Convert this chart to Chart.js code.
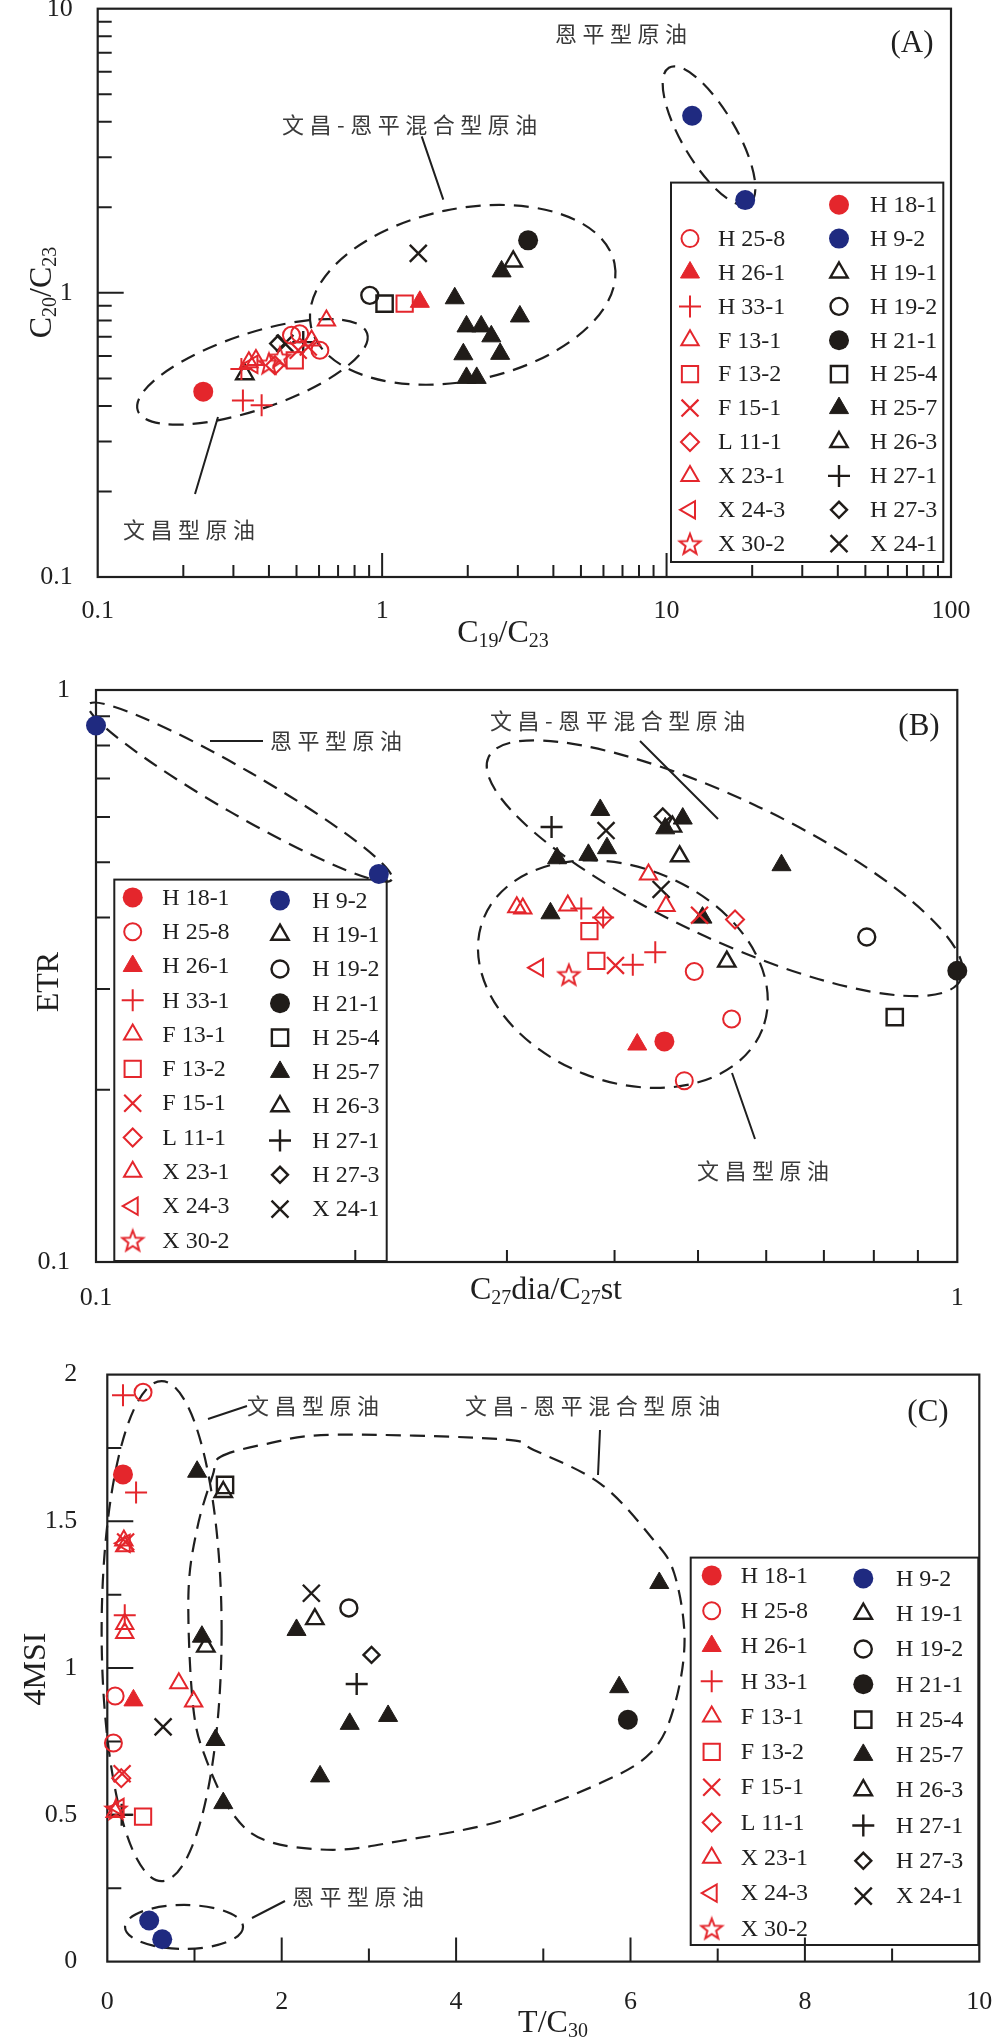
<!DOCTYPE html>
<html>
<head>
<meta charset="utf-8">
<script src="https://cdn.jsdelivr.net/npm/chart.js@4/dist/chart.umd.min.js"></script>
<style>
  html, body { margin: 0; padding: 0; background: #fff; }
  body { width: 1000px; height: 2042px; position: relative; overflow: hidden; }
  canvas { position: absolute; left: 0; }
</style>
</head>
<body>
<canvas id="chA" width="1000" height="680" style="top:-10px"></canvas>
<canvas id="chB" width="1000" height="680" style="top:655px"></canvas>
<canvas id="chC" width="1000" height="707" style="top:1335px"></canvas>
<script>
const RED = '#e4262c', BLUE = '#1f2a80', BLACK = '#201c19', INK = '#1f1f1f', CJK_INK = '#3a3a3a';
const SERIF = '"Liberation Serif", "Times New Roman", serif';
const CJK = '"Noto Sans CJK SC", sans-serif';

// samples, in legend order
const sampleNames = ['H18-1', 'H25-8', 'H26-1', 'H33-1', 'F13-1', 'F13-2', 'F15-1', 'L11-1', 'X23-1', 'X24-3', 'X30-2',
  'H9-2', 'H19-1', 'H19-2', 'H21-1', 'H25-4', 'H25-7', 'H26-3', 'H27-1', 'H27-3', 'X24-1'];
const sampleColors = [RED, RED, RED, RED, RED, RED, RED, RED, RED, RED, RED,
  BLUE, BLACK, BLACK, BLACK, BLACK, BLACK, BLACK, BLACK, BLACK, BLACK];
const sampleMarkers = ['dot', 'ring', 'solidTri', 'plus', 'tri', 'square', 'cross', 'diamond', 'tri', 'leftTri', 'star',
  'dot', 'tri', 'ring', 'dot', 'square', 'solidTri', 'tri', 'plus', 'smallDiamond', 'cross'];

const legendLeft = ['H18-1', 'H25-8', 'H26-1', 'H33-1', 'F13-1', 'F13-2', 'F15-1', 'L11-1', 'X23-1', 'X24-3', 'X30-2'];
const legendRight = ['H9-2', 'H19-1', 'H19-2', 'H21-1', 'H25-4', 'H25-7', 'H26-3', 'H27-1', 'H27-3', 'X24-1'];

// (A) C19/C23 vs C20/C23
const pointsA = [
  ['H18-1', 0.235, 0.449],
  ['H25-8', 0.48, 0.709], ['H25-8', 0.513, 0.718], ['H25-8', 0.604, 0.628],
  ['H26-1', 1.357, 0.93],
  ['H33-1', 0.324, 0.418], ['H33-1', 0.377, 0.402], ['H33-1', 0.32, 0.54],
  ['F13-1', 0.34, 0.57], ['F13-1', 0.637, 0.80],
  ['F13-2', 0.493, 0.579], ['F13-2', 1.2, 0.916],
  ['F15-1', 0.507, 0.628], ['F15-1', 0.55, 0.645],
  ['L11-1', 0.42, 0.556],
  ['X23-1', 0.36, 0.58], ['X23-1', 0.565, 0.68],
  ['X24-3', 0.35, 0.56],
  ['X30-2', 0.437, 0.594], ['X30-2', 0.40, 0.565],
  ['H9-2', 12.3, 4.2], ['H9-2', 18.9, 2.12],
  ['H19-1', 0.329, 0.517],
  ['H19-2', 0.905, 0.98],
  ['H21-1', 3.26, 1.53],
  ['H25-4', 1.02, 0.916],
  ['H25-7', 1.80, 0.957], ['H25-7', 1.98, 0.762], ['H25-7', 2.23, 0.762], ['H25-7', 2.42, 0.703], ['H25-7', 1.93, 0.608],
  ['H25-7', 2.6, 0.61], ['H25-7', 1.98, 0.502], ['H25-7', 2.15, 0.502], ['H25-7', 2.63, 1.19], ['H25-7', 3.05, 0.826],
  ['H26-3', 2.89, 1.29],
  ['H27-1', 0.528, 0.671],
  ['H27-3', 0.431, 0.663],
  ['X24-1', 0.455, 0.664], ['X24-1', 1.34, 1.377]
];

// (B) C27dia/C27st vs ETR
const pointsB = [
  ['H18-1', 0.457, 0.243],
  ['H25-8', 0.495, 0.322], ['H25-8', 0.547, 0.266], ['H25-8', 0.482, 0.2075],
  ['H26-1', 0.425, 0.24],
  ['H33-1', 0.366, 0.415], ['H33-1', 0.42, 0.331], ['H33-1', 0.446, 0.348], ['H33-1', 0.388, 0.40],
  ['F13-1', 0.308, 0.417], ['F13-1', 0.438, 0.476],
  ['F13-2', 0.374, 0.379], ['F13-2', 0.381, 0.336],
  ['F15-1', 0.401, 0.33], ['F15-1', 0.502, 0.404],
  ['L11-1', 0.388, 0.40], ['L11-1', 0.552, 0.397],
  ['X23-1', 0.313, 0.415], ['X23-1', 0.353, 0.42], ['X23-1', 0.459, 0.419],
  ['X24-3', 0.326, 0.327],
  ['X30-2', 0.354, 0.318],
  ['H9-2', 0.1, 0.867], ['H9-2', 0.213, 0.477],
  ['H19-1', 0.467, 0.577],
  ['H19-2', 0.785, 0.37],
  ['H21-1', 1.0, 0.323],
  ['H25-4', 0.846, 0.268],
  ['H25-7', 0.385, 0.617], ['H25-7', 0.392, 0.529], ['H25-7', 0.373, 0.515], ['H25-7', 0.343, 0.508], ['H25-7', 0.337, 0.407],
  ['H25-7', 0.458, 0.573], ['H25-7', 0.48, 0.596], ['H25-7', 0.506, 0.40], ['H25-7', 0.625, 0.494],
  ['H26-3', 0.476, 0.512], ['H26-3', 0.54, 0.335],
  ['H27-1', 0.338, 0.576],
  ['H27-3', 0.455, 0.601],
  ['X24-1', 0.391, 0.568], ['X24-1', 0.453, 0.448]
];

// (C) T/C30 vs 4MSI
const pointsC = [
  ['H18-1', 0.18, 1.66],
  ['H25-8', 0.41, 1.94], ['H25-8', 0.09, 0.905], ['H25-8', 0.07, 0.745],
  ['H26-1', 0.30, 0.89],
  ['H33-1', 0.18, 1.93], ['H33-1', 0.33, 1.598], ['H33-1', 0.2, 1.18],
  ['F13-1', 0.19, 1.435], ['F13-1', 0.2, 1.15], ['F13-1', 0.82, 0.948],
  ['F13-2', 0.41, 0.494],
  ['F15-1', 0.17, 0.64], ['F15-1', 0.21, 1.43],
  ['L11-1', 0.16, 0.625],
  ['X23-1', 0.2, 1.415], ['X23-1', 0.2, 1.12], ['X23-1', 0.99, 0.886], ['X23-1', 0.09, 0.51],
  ['X24-3', 0.13, 0.525], ['X24-3', 0.2, 1.425],
  ['X30-2', 0.1, 0.52],
  ['H9-2', 0.48, 0.14], ['H9-2', 0.63, 0.076],
  ['H19-1', 2.38, 1.167],
  ['H19-2', 2.77, 1.205],
  ['H21-1', 5.97, 0.824],
  ['H25-4', 1.35, 1.624],
  ['H25-7', 1.03, 1.669], ['H25-7', 1.085, 1.107], ['H25-7', 1.24, 0.755], ['H25-7', 1.33, 0.54], ['H25-7', 2.17, 1.13],
  ['H25-7', 2.44, 0.631], ['H25-7', 2.78, 0.81], ['H25-7', 3.22, 0.837], ['H25-7', 5.87, 0.935], ['H25-7', 6.33, 1.29],
  ['H26-3', 1.33, 1.60], ['H26-3', 1.13, 1.073],
  ['H27-1', 2.86, 0.946], ['H27-1', 0.165, 0.50],
  ['H27-3', 3.03, 1.045],
  ['X24-1', 2.34, 1.255], ['X24-1', 0.64, 0.80]
];

// tick labels
const ticksAx = [0.1, 1, 10, 100], ticksAy = [0.1, 1, 10];
const ticksBx = [0.1, 1], ticksBy = [0.1, 1];
const ticksCx = [0, 2, 4, 6, 8, 10], ticksCy = [0, 0.5, 1, 1.5, 2];

// outline of the 文昌-恩平 mixed field in (C), in data units
const mixedOutlineC = [
  [1.30, 1.72], [1.83, 1.764], [2.59, 1.795], [4.51, 1.78], [4.89, 1.743], [5.66, 1.627], [6.24, 1.445], [6.50, 1.324],
  [6.62, 1.096], [6.50, 0.868], [6.24, 0.714], [5.66, 0.609], [4.51, 0.479], [3.36, 0.411], [2.59, 0.381], [1.83, 0.411],
  [1.44, 0.503], [1.14, 0.684], [0.985, 0.867], [0.93, 1.247], [1.03, 1.475], [1.21, 1.658]
];

function makeStar(color) {
  const c = document.createElement('canvas');
  c.width = c.height = 26;
  const g = c.getContext('2d');
  g.strokeStyle = color; g.lineWidth = 2; g.lineJoin = 'miter';
  g.beginPath();
  for (let i = 0; i < 10; i++) {
    const r = i % 2 ? 4.6 : 11;
    const t = -Math.PI / 2 + i * Math.PI / 5;
    const px = 13 + r * Math.cos(t), py = 14 + r * Math.sin(t);
    if (i === 0) g.moveTo(px, py); else g.lineTo(px, py);
  }
  g.closePath(); g.stroke();
  return c;
}
const starImg = makeStar(RED);

const markerDefs = {
  dot: { pointStyle: 'circle', radius: 10, fill: true, bw: 0 },
  ring: { pointStyle: 'circle', radius: 8.5, fill: false, bw: 2 },
  solidTri: { pointStyle: 'triangle', radius: 11, fill: true, bw: 1 },
  tri: { pointStyle: 'triangle', radius: 10, fill: false, bw: 2 },
  leftTri: { pointStyle: 'triangle', radius: 10, fill: false, bw: 2, rotation: -90 },
  plus: { pointStyle: 'cross', radius: 11, fill: false, bw: 2 },
  cross: { pointStyle: 'crossRot', radius: 12, fill: false, bw: 2.2 },
  square: { pointStyle: 'rect', radius: 11.5, fill: false, bw: 2 },
  diamond: { pointStyle: 'rectRot', radius: 9, fill: false, bw: 2 },
  smallDiamond: { pointStyle: 'rectRot', radius: 8, fill: false, bw: 2.4 },
  star: { pointStyle: starImg, radius: 11, fill: false, bw: 2 }
};

function styleOf(name) {
  const i = sampleNames.indexOf(name);
  const m = Object.assign({}, markerDefs[sampleMarkers[i]]);
  m.color = sampleColors[i];
  if (m.color === BLACK && !m.fill) m.bw = Math.max(m.bw, 2.4);
  return m;
}

function buildDatasets(points) {
  return sampleNames.map((name) => {
    const m = styleOf(name);
    return {
      label: name,
      data: points.filter((p) => p[0] === name).map((p) => ({ x: p[1], y: p[2] })),
      showLine: false,
      clip: false,
      pointStyle: m.pointStyle,
      pointRadius: m.radius,
      pointHoverRadius: m.radius,
      pointRotation: m.rotation || 0,
      pointBorderWidth: m.bw,
      pointBorderColor: m.color,
      pointBackgroundColor: m.fill ? m.color : 'rgba(0,0,0,0)'
    };
  });
}

function logMinor(lo, hi) {
  const out = [];
  for (let d = lo; d < hi; d *= 10) for (let k = 2; k <= 9; k++) out.push(d * k);
  return out;
}

function drawRich(ctx, parts, cx, cy, rot, size) {
  const sub = Math.round(size * 0.62);
  ctx.save();
  ctx.translate(cx, cy);
  if (rot) ctx.rotate(rot);
  ctx.fillStyle = INK;
  ctx.textBaseline = 'middle';
  ctx.textAlign = 'left';
  let w = 0;
  parts.forEach(([t, s]) => { ctx.font = (s ? sub : size) + 'px ' + SERIF; w += ctx.measureText(t).width; });
  let xx = -w / 2;
  parts.forEach(([t, s]) => {
    ctx.font = (s ? sub : size) + 'px ' + SERIF;
    ctx.fillText(t, xx, s ? size * 0.24 : 0);
    xx += ctx.measureText(t).width;
  });
  ctx.restore();
}

function overlay(cfg) {
  return {
    id: 'overlay',
    beforeDatasetsDraw(chart) {
      const { ctx, chartArea: a } = chart;
      const sx = chart.scales.x, sy = chart.scales.y;
      const T = cfg.top;
      ctx.save();
      ctx.strokeStyle = INK;
      ctx.lineWidth = 2.2;
      ctx.strokeRect(a.left, a.top, a.right - a.left, a.bottom - a.top);

      ctx.lineWidth = 2;
      ctx.beginPath();
      cfg.xTicks.forEach(([v, len]) => {
        const px = sx.getPixelForValue(v);
        ctx.moveTo(px, a.bottom); ctx.lineTo(px, a.bottom - len);
      });
      cfg.yTicks.forEach(([v, len]) => {
        const py = sy.getPixelForValue(v);
        ctx.moveTo(a.left, py); ctx.lineTo(a.left + len, py);
      });
      ctx.stroke();

      // dashed fields
      ctx.setLineDash([15, 9]);
      ctx.lineWidth = 2.2;
      cfg.ellipses.forEach((e) => {
        ctx.beginPath();
        ctx.ellipse(sx.getPixelForValue(e.cx), sy.getPixelForValue(e.cy), e.rx, e.ry, e.ang * Math.PI / 180, 0, Math.PI * 2);
        ctx.stroke();
      });
      if (cfg.outline) {
        const pts = cfg.outline.map(([vx, vy]) => ({ x: sx.getPixelForValue(vx), y: sy.getPixelForValue(vy) }));
        const n = pts.length;
        ctx.beginPath();
        ctx.moveTo(pts[0].x, pts[0].y);
        for (let i = 0; i < n; i++) {
          const p0 = pts[(i - 1 + n) % n], p1 = pts[i], p2 = pts[(i + 1) % n], p3 = pts[(i + 2) % n];
          ctx.bezierCurveTo(p1.x + (p2.x - p0.x) / 6, p1.y + (p2.y - p0.y) / 6,
            p2.x - (p3.x - p1.x) / 6, p2.y - (p3.y - p1.y) / 6, p2.x, p2.y);
        }
        ctx.stroke();
      }
      ctx.setLineDash([]);

      // leader lines
      ctx.lineWidth = 2;
      ctx.beginPath();
      cfg.leaders.forEach(([x1, y1, x2, y2]) => { ctx.moveTo(x1, y1 - T); ctx.lineTo(x2, y2 - T); });
      ctx.stroke();

      // legend
      const L = cfg.legend;
      ctx.lineWidth = 2;
      ctx.strokeRect(L.box[0], L.box[1] - T, L.box[2] - L.box[0], L.box[3] - L.box[1]);
      const drawEntry = (name, mx, tx, y) => {
        const m = styleOf(name);
        ctx.save();
        ctx.fillStyle = m.fill ? m.color : 'rgba(0,0,0,0)';
        ctx.strokeStyle = m.color;
        ctx.lineWidth = m.bw;
        Chart.helpers.drawPoint(ctx, { pointStyle: m.pointStyle, radius: m.radius, rotation: m.rotation || 0, borderWidth: m.bw }, mx, y);
        ctx.restore();
        ctx.fillStyle = INK;
        ctx.font = '24px ' + SERIF;
        ctx.textAlign = 'left';
        ctx.textBaseline = 'middle';
        ctx.fillText(name.replace(/^([A-Z])/, '$1 '), tx, y + 1);
      };
      L.left.forEach((name, i) => drawEntry(name, L.c1[0], L.c1[1], L.y0 + (i + L.leftStart) * L.dy - T));
      L.right.forEach((name, i) => drawEntry(name, L.c2[0], L.c2[1], L.y0 + i * L.dy + L.rightShift - T));
      ctx.restore();
    },
    afterDatasetsDraw(chart) {
      const ctx = chart.ctx;
      const T = cfg.top;
      ctx.save();
      ctx.fillStyle = CJK_INK;
      ctx.font = '22px ' + CJK;
      ctx.textAlign = 'left';
      ctx.textBaseline = 'middle';
      ctx.letterSpacing = '5.5px';
      cfg.labels.forEach((l) => ctx.fillText(l.t, l.x, l.y - T));
      ctx.letterSpacing = '0px';
      ctx.fillStyle = INK;
      ctx.font = '31px ' + SERIF;
      ctx.textAlign = 'center';
      ctx.fillText(cfg.tag.t, cfg.tag.x, cfg.tag.y - T);
      drawRich(ctx, cfg.xTitle.parts, cfg.xTitle.x, cfg.xTitle.y - T, 0, 32);
      drawRich(ctx, cfg.yTitle.parts, cfg.yTitle.x, cfg.yTitle.y - T, -Math.PI / 2, 32);
      ctx.restore();
    }
  };
}

function makePanel(id, cfg) {
  const canvas = document.getElementById(id);
  const W = canvas.width, H = canvas.height;
  const area = cfg.area;
  const tickFont = { family: SERIF, size: 26 };
  const axis = (opts, isX) => Object.assign({
    grid: { display: false },
    border: { display: false },
    ticks: {
      color: INK, font: tickFont, autoSkip: false, maxRotation: 0, minRotation: 0,
      padding: isX ? cfg.xPad : cfg.yPad,
      callback: (v) => String(v)
    },
    afterBuildTicks: (s) => { s.ticks = (isX ? cfg.xLabels : cfg.yLabels).map((v) => ({ value: v })); },
    afterFit: (s) => {
      if (isX) { s.height = H - area.bottom; s.paddingLeft = 0; s.paddingRight = 0; }
      else { s.width = area.left; s.paddingTop = 0; s.paddingBottom = 0; }
    }
  }, opts);

  return new Chart(canvas.getContext('2d'), {
    type: 'scatter',
    data: { datasets: buildDatasets(cfg.points) },
    options: {
      responsive: false,
      animation: false,
      devicePixelRatio: 1,
      events: [],
      layout: { padding: { left: 0, top: area.top, right: W - area.right, bottom: 0 } },
      plugins: { legend: { display: false }, tooltip: { enabled: false } },
      scales: {
        x: axis({ type: cfg.xType, min: cfg.xRange[0], max: cfg.xRange[1] }, true),
        y: axis({ type: cfg.yType, min: cfg.yRange[0], max: cfg.yRange[1] }, false)
      }
    },
    plugins: [overlay(cfg)]
  });
}

makePanel('chA', {
  top: -10,
  area: { top: 18.7, bottom: 587, left: 97.7, right: 951 },
  points: pointsA,
  xType: 'logarithmic', yType: 'logarithmic',
  xRange: [0.1, 100], yRange: [0.1, 10],
  xLabels: ticksAx, yLabels: ticksAy, xPad: 11, yPad: 17,
  xTicks: logMinor(0.1, 100).map((v) => [v, 12]).concat([[1, 24], [10, 24]]),
  yTicks: logMinor(0.1, 10).map((v) => [v, 14]).concat([[1, 26]]),
  ellipses: [
    { cx: 0.35, cy: 0.527, rx: 121, ry: 38, ang: -18.6 },
    { cx: 1.92, cy: 0.984, rx: 155, ry: 86, ang: -11.7 },
    { cx: 14.1, cy: 3.57, rx: 79, ry: 27, ang: 59.5 }
  ],
  leaders: [[421.7, 136.4, 443.3, 199.6], [195, 494, 218, 417]],
  labels: [
    { t: '恩平型原油', x: 555, y: 34 },
    { t: '文昌-恩平混合型原油', x: 282, y: 125 },
    { t: '文昌型原油', x: 123, y: 530 }
  ],
  tag: { t: '(A)', x: 912, y: 44 },
  xTitle: { parts: [['C', 0], ['19', 1], ['/C', 0], ['23', 1]], x: 503, y: 634 },
  yTitle: { parts: [['C', 0], ['20', 1], ['/C', 0], ['23', 1]], x: 43, y: 292.5 },
  legend: {
    box: [671, 182.6, 943.3, 562], c1: [690, 718], c2: [839, 870], y0: 204.7, dy: 33.9,
    left: legendLeft.slice(1), leftStart: 1, right: ['H18-1'].concat(legendRight), rightShift: 0
  }
});

makePanel('chB', {
  top: 655,
  area: { top: 35, bottom: 607, left: 96, right: 957.3 },
  points: pointsB,
  xType: 'logarithmic', yType: 'logarithmic',
  xRange: [0.1, 1], yRange: [0.1, 1],
  xLabels: ticksBx, yLabels: ticksBy, xPad: 13, yPad: 18,
  xTicks: logMinor(0.1, 1).map((v) => [v, 12]),
  yTicks: logMinor(0.1, 1).map((v) => [v, 14]),
  ellipses: [
    { cx: 0.147, cy: 0.663, rx: 175, ry: 22, ang: 30 },
    { cx: 0.537, cy: 0.488, rx: 261, ry: 70, ang: 25.2 },
    { cx: 0.409, cy: 0.3186, rx: 150, ry: 107, ang: 21.6 }
  ],
  leaders: [[210, 741, 263, 741], [640, 741, 718, 819], [732, 1073, 755, 1139]],
  labels: [
    { t: '恩平型原油', x: 270, y: 741 },
    { t: '文昌-恩平混合型原油', x: 490, y: 721 },
    { t: '文昌型原油', x: 697, y: 1171 }
  ],
  tag: { t: '(B)', x: 919, y: 727 },
  xTitle: { parts: [['C', 0], ['27', 1], ['dia/C', 0], ['27', 1], ['st', 0]], x: 546, y: 1291 },
  yTitle: { parts: [['ETR', 0]], x: 50, y: 982 },
  legend: {
    box: [114.3, 879.6, 386.7, 1261], c1: [132.7, 162.3], c2: [280, 312.3], y0: 897.4, dy: 34.3,
    left: legendLeft, leftStart: 0, right: legendRight, rightShift: 3
  }
});

makePanel('chC', {
  top: 1335,
  area: { top: 39.6, bottom: 626.6, left: 107.3, right: 979.3 },
  points: pointsC,
  xType: 'linear', yType: 'linear',
  xRange: [0, 10], yRange: [0, 2],
  xLabels: ticksCx, yLabels: ticksCy, xPad: 17, yPad: 22,
  xTicks: [[1, 13], [2, 24], [3, 13], [4, 24], [5, 13], [6, 24], [7, 13], [8, 24], [9, 13]],
  yTicks: [[0.25, 14], [0.5, 26], [0.75, 14], [1, 26], [1.25, 14], [1.5, 26], [1.75, 14]],
  ellipses: [
    { cx: 0.623, cy: 1.126, rx: 60, ry: 250, ang: 0 },
    { cx: 0.88, cy: 0.118, rx: 59, ry: 22, ang: 0 }
  ],
  outline: mixedOutlineC,
  leaders: [[208, 1419, 247, 1406], [600, 1430, 598, 1475], [252, 1918, 285, 1901]],
  labels: [
    { t: '文昌型原油', x: 247, y: 1406 },
    { t: '文昌-恩平混合型原油', x: 465, y: 1406 },
    { t: '恩平型原油', x: 292, y: 1897 }
  ],
  tag: { t: '(C)', x: 928, y: 1413 },
  xTitle: { parts: [['T/C', 0], ['30', 1]], x: 553, y: 2024 },
  yTitle: { parts: [['4MSI', 0]], x: 37, y: 1669 },
  legend: {
    box: [690.7, 1557.6, 978.3, 1945], c1: [711.7, 740.7], c2: [863.3, 896], y0: 1575.4, dy: 35.3,
    left: legendLeft, leftStart: 0, right: legendRight, rightShift: 3
  }
});
</script>
</body>
</html>
